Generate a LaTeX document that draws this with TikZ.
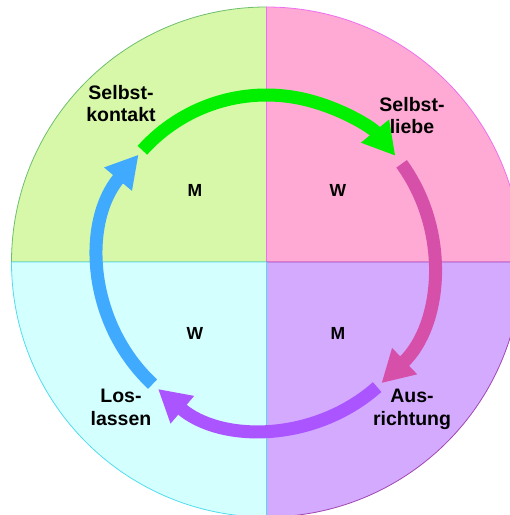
\documentclass[tikz,border=0pt]{standalone}
\usepackage{fontspec}
\setmainfont{Liberation Sans}
\usetikzlibrary{arrows.meta,positioning}

\definecolor{quadgreen}{RGB}{214,248,168}
\definecolor{quadpink}{RGB}{255,170,212}
\definecolor{quadlilac}{RGB}{212,170,255}
\definecolor{quadcyan}{RGB}{212,255,255}
\definecolor{edgegreen}{RGB}{110,190,110}
\definecolor{edgepink}{RGB}{240,110,240}
\definecolor{edgelilac}{RGB}{160,70,175}
\definecolor{edgecyan}{RGB}{80,220,240}
\definecolor{arrowgreen}{RGB}{0,240,0}
\definecolor{arrowpink}{RGB}{214,80,170}
\definecolor{arrowlilac}{RGB}{170,85,255}
\definecolor{arrowblue}{RGB}{64,170,255}

\begin{document}
\begin{tikzpicture}[x=1pt, y=1pt,
    quadrant/.style = {line width=0.8pt},
    cyclearrow/.style = {line width=13pt, -{Triangle[length=32pt,width=34pt]}},
    phase/.style = {font=\bfseries\fontsize{19.5}{22.5}\selectfont, align=center, inner sep=0pt, anchor=north},
    pole/.style = {font=\bfseries\fontsize{17.5}{20}\selectfont, inner sep=0pt}]
    \useasboundingbox (-266.5,-253) rectangle (243.5,262);
    \clip (-266.5,-253) rectangle (243.5,262);
    \coordinate (c) at (0,0);

    \filldraw[quadrant, fill=quadgreen, draw=edgegreen] (c) -- (180:255) arc[start angle=180, end angle=90, radius=255] -- cycle;
    \filldraw[quadrant, fill=quadpink, draw=edgepink] (c) -- (90:255) arc[start angle=90, end angle=0, radius=255] -- cycle;
    \filldraw[quadrant, fill=quadlilac, draw=edgelilac] (c) -- (0:255) arc[start angle=0, end angle=-90, radius=255] -- cycle;
    \filldraw[quadrant, fill=quadcyan, draw=edgecyan] (c) -- (-90:255) arc[start angle=-90, end angle=-180, radius=255] -- cycle;

    \draw[cyclearrow, arrowgreen] ([shift={(138:167)}]c) arc[start angle=138, end angle=39.5, radius=167];
    \draw[cyclearrow, arrowpink] ([shift={(36:167)}]c) arc[start angle=36, end angle=-46.5, radius=167];
    \draw[cyclearrow, arrowlilac] ([shift={(-48.5:167)}]c) arc[start angle=-48.5, end angle=-130.5, radius=167];
    \draw[cyclearrow, arrowblue] ([shift={(-133:167)}]c) arc[start angle=-133, end angle=-220, radius=167];

    \node[phase] (kontakt) at (-145.5,177) {Selbst-\\kontakt};
    \node[phase] (liebe) at (145.5,165) {Selbst-\\liebe};
    \node[phase] (ausrichtung) at (145.5,-127) {Aus-\\richtung};
    \node[phase] (loslassen) at (-145.5,-127) {Los-\\lassen};

    \node[pole] (m1) at (-71.5,72) {M};
    \node[pole] (w1) at (71.5,72) {W};
    \node[pole] (w2) at (-71.5,-71) {W};
    \node[pole] (m2) at (71.5,-71) {M};
\end{tikzpicture}
\end{document}
